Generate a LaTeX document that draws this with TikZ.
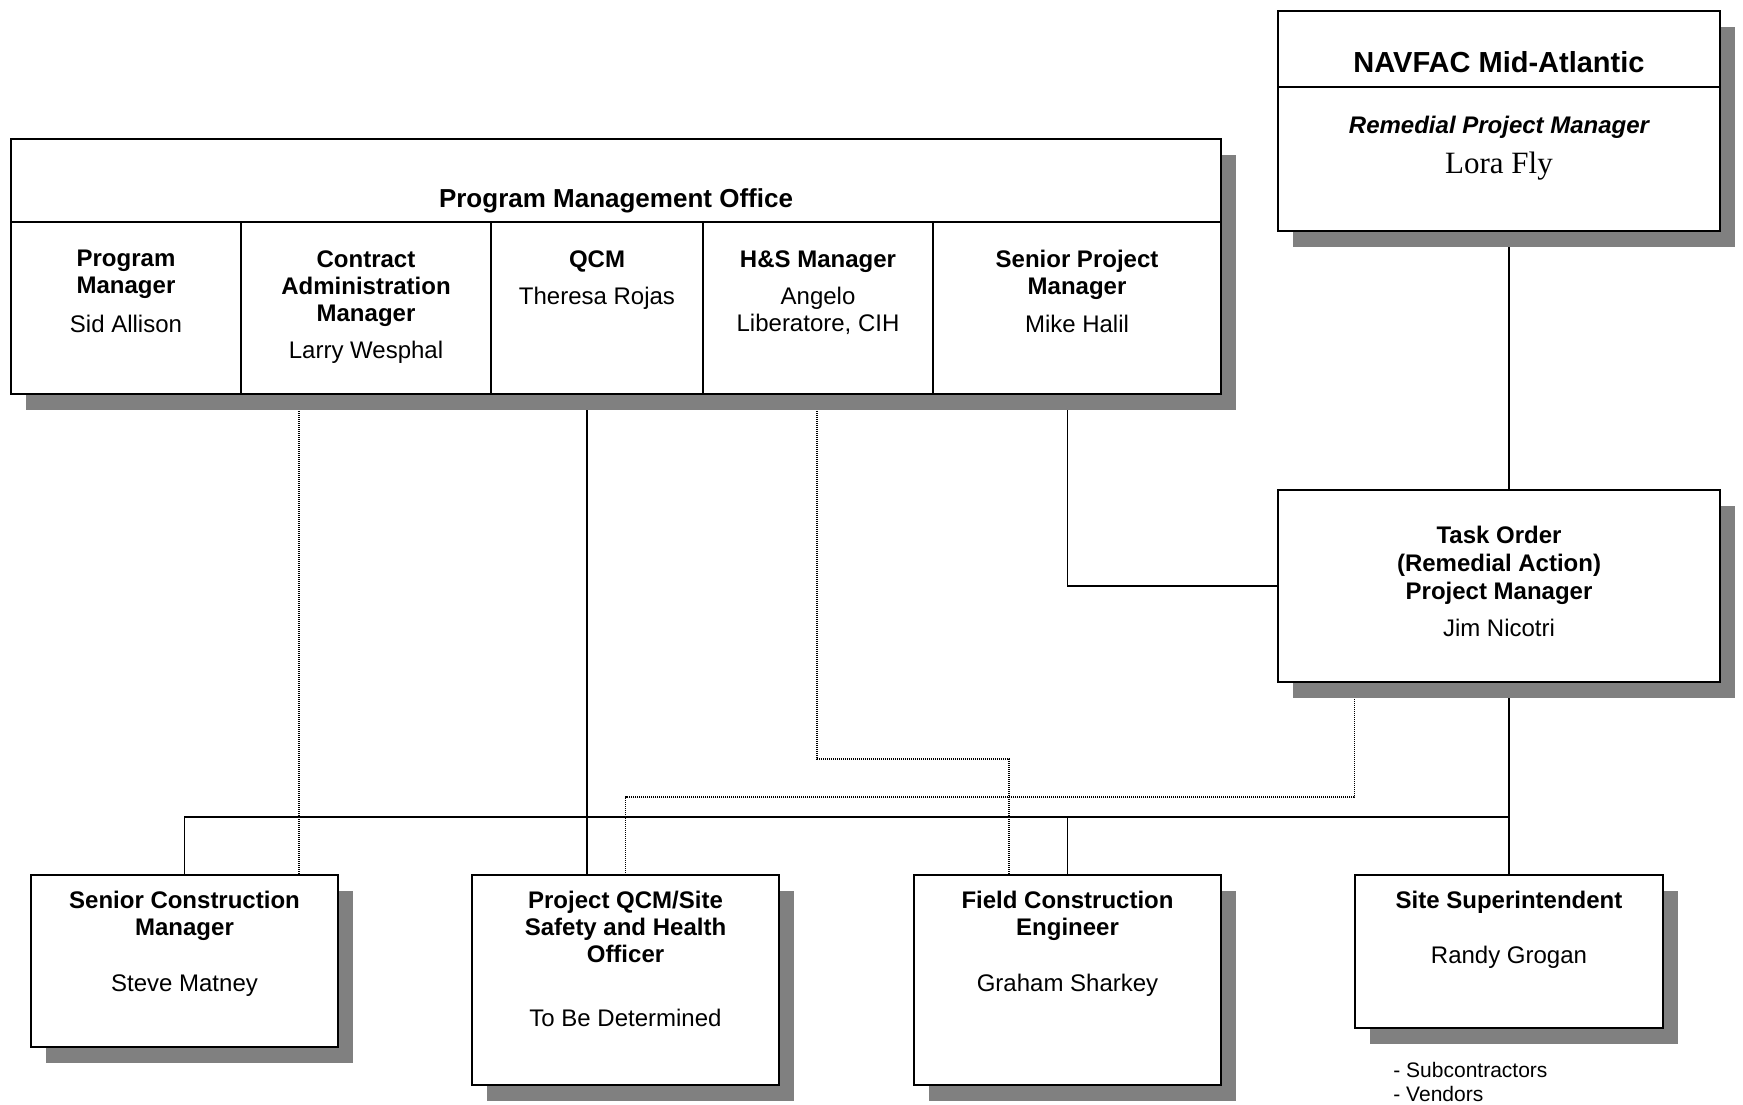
\documentclass[tikz,border=0pt]{standalone}
\usepackage{fontspec}
\setmainfont{Liberation Sans}
\newfontfamily\serifname{Liberation Serif}
\usetikzlibrary{shadows,backgrounds}
\begin{document}
\begin{tikzpicture}[x=0.5pt,y=-0.5pt,
  box/.style={draw, line width=0.85pt, fill=white, inner sep=0pt,
    drop shadow={shadow xshift=7.5pt, shadow yshift=-8pt, fill=black!50, opacity=1}},
  txt/.style={inner sep=0pt, align=center, anchor=north, font=\fontsize{12}{13.5}\selectfont},
  btxt/.style={inner sep=0pt, align=center, anchor=north, font=\fontsize{12}{13.5}\selectfont\bfseries},
  conn/.style={line width=0.6pt},
  dotline/.style={line width=0.6pt, dash pattern=on 0.5pt off 0.5pt},
  divider/.style={line width=0.85pt}]
\useasboundingbox (0,0) rectangle (1743,1104);

% ---------- boxes ----------
\node[box, minimum width=221pt, minimum height=110pt] (navfac) at (1499,121) {};
\node[box, minimum width=605pt, minimum height=127.5pt] (pmo) at (616,266.5) {};
\node[box, minimum width=221pt, minimum height=96pt] (task) at (1499,586) {};
\node[box, minimum width=153.5pt, minimum height=86pt] (scm) at (184.5,961) {};
\node[box, minimum width=153.5pt, minimum height=105pt] (qcm) at (625.5,980) {};
\node[box, minimum width=153.5pt, minimum height=105pt] (fce) at (1067.5,980) {};
\node[box, minimum width=154pt, minimum height=76.5pt] (sup) at (1509,951.5) {};

% ---------- helper coordinates ----------
\coordinate (ndiv) at (0,87);
\coordinate (pdiv) at (0,222);
\coordinate (c1) at (241,0);
\coordinate (c2) at (491,0);
\coordinate (c3) at (703,0);
\coordinate (c4) at (933,0);
\coordinate (cc) at (299,0);
\coordinate (cq) at (587,0);
\coordinate (hs1) at (817,759);
\coordinate (hs2) at (1009,759);
\coordinate (tq) at (0,797);
\coordinate (bus) at (0,817);

% ---------- internal dividers ----------
\draw[divider] (navfac.west |- ndiv) -- (navfac.east |- ndiv);
\draw[divider] (pmo.west |- pdiv) -- (pmo.east |- pdiv);
\foreach \c in {c1,c2,c3,c4}
  \draw[divider] (\c |- pdiv) -- (\c |- pmo.south);

% ---------- texts ----------
\node[inner sep=0pt, anchor=north, font=\fontsize{14.5}{16}\selectfont\bfseries] (tnav) at (1499,51) {NAVFAC Mid-Atlantic};
\node[btxt, font=\fontsize{12}{13.5}\selectfont\bfseries\itshape] (trpm) at (1499,116) {Remedial Project Manager};
\node[inner sep=0pt, anchor=north, font=\serifname\fontsize{15.5}{17}\selectfont] (tlora) at (1499,152) {Lora Fly};

\node[inner sep=0pt, anchor=north, font=\fontsize{13}{15}\selectfont\bfseries] (tpmo) at (616,188.5) {Program Management Office};

\node[btxt] (t1) at (126,250) {Program\\Manager};
\node[txt] (n1) at (126,315) {Sid Allison};
\node[btxt] (t2) at (366,250) {Contract\\Administration\\Manager};
\node[txt] (n2) at (366,341) {Larry Wesphal};
\node[btxt] (t3) at (597,250) {QCM};
\node[txt] (n3) at (597,287) {Theresa Rojas};
\node[btxt] (t4) at (818,250) {H\&S Manager};
\node[txt] (n4) at (818,287) {Angelo\\Liberatore, CIH};
\node[btxt] (t5) at (1077,250) {Senior Project\\Manager};
\node[txt] (n5) at (1077,315) {Mike Halil};

\node[btxt, font=\fontsize{12}{13.9}\selectfont\bfseries] (ttask) at (1499,526) {Task Order\\(Remedial Action)\\Project Manager};
\node[txt] (ntask) at (1499,619) {Jim Nicotri};

\node[btxt] (tscm) at (184.5,891) {Senior Construction\\Manager};
\node[txt] (nscm) at (184.5,974) {Steve Matney};
\node[btxt] (tqcm) at (625.5,891) {Project QCM/Site\\Safety and Health\\Officer};
\node[txt] (nqcm) at (625.5,1009) {To Be Determined};
\node[btxt] (tfce) at (1067.5,891) {Field Construction\\Engineer};
\node[txt] (nfce) at (1067.5,974) {Graham Sharkey};
\node[btxt] (tsup) at (1509,891) {Site Superintendent};
\node[txt] (nsup) at (1509,946) {Randy Grogan};

\node[inner sep=0pt, anchor=north west, align=left, font=\fontsize{10.5}{12}\selectfont] (subs) at (1393,1062) {- Subcontractors\\- Vendors};

% ---------- connectors (behind boxes and shadows) ----------
\begin{scope}[on background layer]
  \draw[conn] (sup.north |- navfac.south) -- (sup.north |- task.north);
  \draw[conn] (fce.north |- pmo.south) |- (task.west);
  \draw[conn] (cq |- pmo.south) -- (cq |- qcm.north);
  \draw[conn] (sup.north |- task.south) -- (sup.north);
  \draw[conn] (scm.north) -- (scm.north |- bus) -- (sup.north |- bus);
  \draw[conn] (fce.north |- bus) -- (fce.north);
  \draw[dotline] (cc |- pmo.south) -- (cc |- scm.north);
  \draw[dotline] (hs1 |- pmo.south) -- (hs1) -- (hs2) -- (hs2 |- fce.north);
  \draw[dotline] (sup.west |- task.south) -- (sup.west |- tq) -- (qcm.north |- tq) -- (qcm.north);
\end{scope}
\end{tikzpicture}
\end{document}
